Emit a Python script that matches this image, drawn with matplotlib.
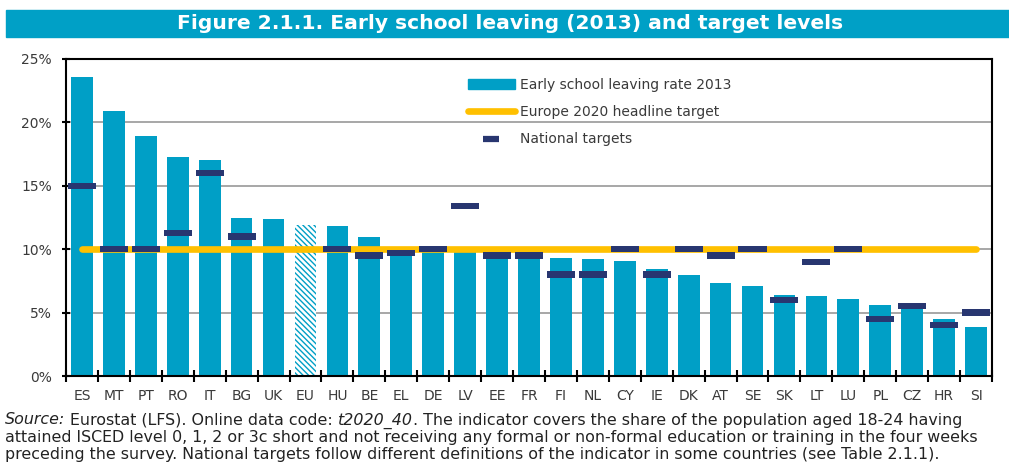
import matplotlib
matplotlib.use('Agg')
import matplotlib.pyplot as plt
from matplotlib.patches import Patch, Rectangle
from matplotlib.lines import Line2D
import numpy as np

# === Data
countries = ['ES', 'MT', 'PT', 'RO', 'IT', 'BG', 'UK', 'EU', 'HU', 'BE', 'EL',
             'DE', 'LV', 'EE', 'FR', 'FI', 'NL', 'CY', 'IE', 'DK', 'AT', 'SE',
             'SK', 'LT', 'LU', 'PL', 'CZ', 'HR', 'SI']
rate_2013 = [23.6, 20.9, 18.9, 17.3, 17.0, 12.5, 12.4, 11.9, 11.8, 11.0, 10.1,
             9.9, 9.8, 9.7, 9.7, 9.3, 9.2, 9.1, 8.4, 8.0, 7.3, 7.1,
             6.4, 6.3, 6.1, 5.6, 5.4, 4.5, 3.9]
national_target = [15, 10, 10, 11.3, 16, 11, np.nan, np.nan, 10, 9.5, 9.7,
                   10, 13.4, 9.5, 9.5, 8, 8, 10, 8, 10, 9.5, 10,
                   6, 9, 10, 4.5, 5.5, 4, 5]
headline_target = 10
y_ticks = [0, 5, 10, 15, 20, 25]

title = 'Figure 2.1.1. Early school leaving (2013) and target levels'
note_lines = [
    [('Source:', 'italic'), (' Eurostat (LFS). Online data code: ', 'normal'),
     ('t2020_40', 'italic'),
     ('. The indicator covers the share of the population aged 18-24 having', 'normal')],
    [('attained ISCED level 0, 1, 2 or 3c short and not receiving any formal or '
      'non-formal education or training in the four weeks', 'normal')],
    [('preceding the survey. National targets follow different definitions of the '
      'indicator in some countries (see Table 2.1.1).', 'normal')],
]

# colours
c_bar = '#009FC6'
c_gold = '#FFC000'
c_navy = '#283670'
c_text = '#3a3a3a'

W, H = 1009, 472
fig = plt.figure(figsize=(W / 100, H / 100), dpi=100)
ax = fig.add_axes([66 / W, 1 - 376 / H, 926 / W, 317 / H])

x = np.arange(len(countries))
rate = np.array(rate_2013)
target = np.array(national_target, dtype=float)

bars = ax.bar(x, rate, width=0.68, color=c_bar, linewidth=0, zorder=2)

# EU average drawn hatched
plt.rcParams['hatch.linewidth'] = 2.2
eu = bars[countries.index('EU')]
eu.set_facecolor('white')
eu.set_edgecolor(c_bar)
eu.set_hatch('\\\\\\\\\\\\')
eu.set_linewidth(0)

# Europe 2020 headline target
ax.plot([x[0], x[-1]], [headline_target, headline_target], color=c_gold,
        lw=4.8, solid_capstyle='round', zorder=3)

# National targets as short thick bars
has_t = ~np.isnan(target)
ax.bar(x[has_t], 0.5, bottom=target[has_t] - 0.25, width=0.88,
       color=c_navy, linewidth=0, zorder=4)

ax.set_xlim(-0.5, len(countries) - 0.5)
ax.set_ylim(0, 25)
ax.set_yticks(y_ticks)
ax.set_yticklabels(['{0:d}%'.format(v) for v in y_ticks])
ax.yaxis.grid(True, color='#a0a0a0', lw=1.3, zorder=0)
ax.set_axisbelow(True)

ax.set_xticks(x)
ax.set_xticklabels(countries)
ax.set_xticks(np.arange(len(countries) + 1) - 0.5, minor=True)
ax.tick_params(axis='x', which='major', length=0, pad=9, labelsize=10,
               labelcolor=c_text)
ax.tick_params(axis='x', which='minor', length=8, width=1.5,
               direction='inout', color='black')
ax.tick_params(axis='y', length=6, width=1.5, direction='inout', pad=7,
               labelsize=10, labelcolor=c_text)

for sp in ax.spines.values():
    sp.set_linewidth(1.5)
    sp.set_color('black')

# Legend
handles = [Patch(color=c_bar),
           Line2D([], [], color=c_gold, lw=4.8, solid_capstyle='round'),
           Line2D([], [], color=c_navy, marker='_', ms=11, mew=4.5, ls='none')]
labels = ['Early school leaving rate 2013', 'Europe 2020 headline target',
          'National targets']
leg = ax.legend(handles, labels, loc='upper left',
                bbox_to_anchor=(0.434, 0.94), frameon=False, fontsize=10,
                handlelength=3.4, handletextpad=0.35, labelspacing=0.95,
                borderpad=0, borderaxespad=0)
for t in leg.get_texts():
    t.set_color(c_text)

# Title banner
fig.patches.append(Rectangle((6 / W, 1 - 37 / H), (W - 6) / W, 27 / H,
                             transform=fig.transFigure, color='#00A0C6',
                             zorder=0))
fig.text(0.506, 1 - 23.5 / H, title, ha='center', va='center', color='white',
         fontsize=14.6, fontweight='bold')

# Footnote, with italic pieces (shared baseline per line)
renderer = fig.canvas.get_renderer()
line_y = [424.5, 442, 459.5]
for parts, yy in zip(note_lines, line_y):
    xpos = 5 / W
    for txt, st in parts:
        t = fig.text(xpos, 1 - yy / H, txt, style=st, fontsize=11.4,
                     color='#222222', va='baseline', ha='left')
        bb = t.get_window_extent(renderer)
        xpos = bb.x1 / fig.bbox.width

plt.savefig('out.png', dpi=100)
